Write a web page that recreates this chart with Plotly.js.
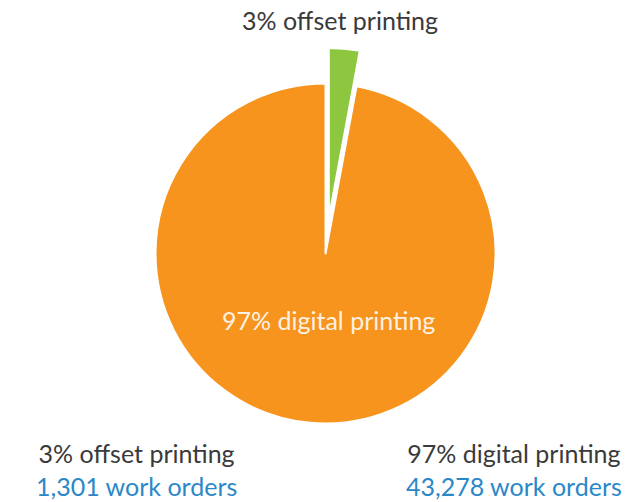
<!DOCTYPE html>
<html>
<head>
<meta charset="utf-8">
<script src="https://cdn.plot.ly/plotly-3.0.1.min.js"></script>
<style>html,body{margin:0;padding:0;background:#fff;}#chart{width:640px;height:502px;}</style>
</head>
<body>
<div id="chart"></div>
<script>
const categories = ["offset printing", "digital printing"];
const workOrders = [1301, 43278];
const percentLabels = ["3%", "97%"];
const sliceColors = ["#8DC63F", "#F7941E"];
const pulls = [0.21, 0];

const darkText = "#3a3a3a";
const blueText = "#2B88C8";
const fontFamily = "Lato, 'Open Sans', sans-serif";

const trace = {
  type: "pie",
  labels: categories,
  values: workOrders,
  marker: { colors: sliceColors, line: { color: "#ffffff", width: 2 } },
  pull: pulls,
  sort: false,
  direction: "clockwise",
  rotation: 0,
  textinfo: "none",
  hoverinfo: "skip",
  showlegend: false,
  domain: { x: [0.1180, 0.8993], y: [0.0853, 0.9048] }
};

const fmt = n => n.toLocaleString("en-US");

function ann(text, px, py, color, size) {
  return { text: text, x: px/640, y: 1 - py/502, xref: "paper", yref: "paper",
    xanchor: "center", yanchor: "middle", showarrow: false,
    font: { family: fontFamily, size: size || 25, color: color } };
}

function footer(i, px) {
  return {
    text: percentLabels[i] + " " + categories[i] + "<br><span style=\"color:" + blueText + "\">" +
          fmt(workOrders[i]) + " work orders</span>",
    x: px/640, y: 0, xref: "paper", yref: "paper",
    xanchor: "center", yanchor: "bottom", align: "center", showarrow: false, borderpad: 0,
    font: { family: fontFamily, size: 25, color: darkText }
  };
}

const annotations = [
  ann(percentLabels[0] + " " + categories[0], 340, 20, darkText),
  ann(percentLabels[1] + " " + categories[1], 328, 320, "#FDF1E3"),
  footer(0, 136),
  footer(1, 514)
];

const layout = {
  width: 640, height: 502,
  margin: { l: 0, r: 0, t: 0, b: 0 },
  paper_bgcolor: "#ffffff",
  plot_bgcolor: "#ffffff",
  showlegend: false,
  annotations: annotations
};

Plotly.newPlot("chart", [trace], layout, { displayModeBar: false, staticPlot: true });
</script>
</body>
</html>
